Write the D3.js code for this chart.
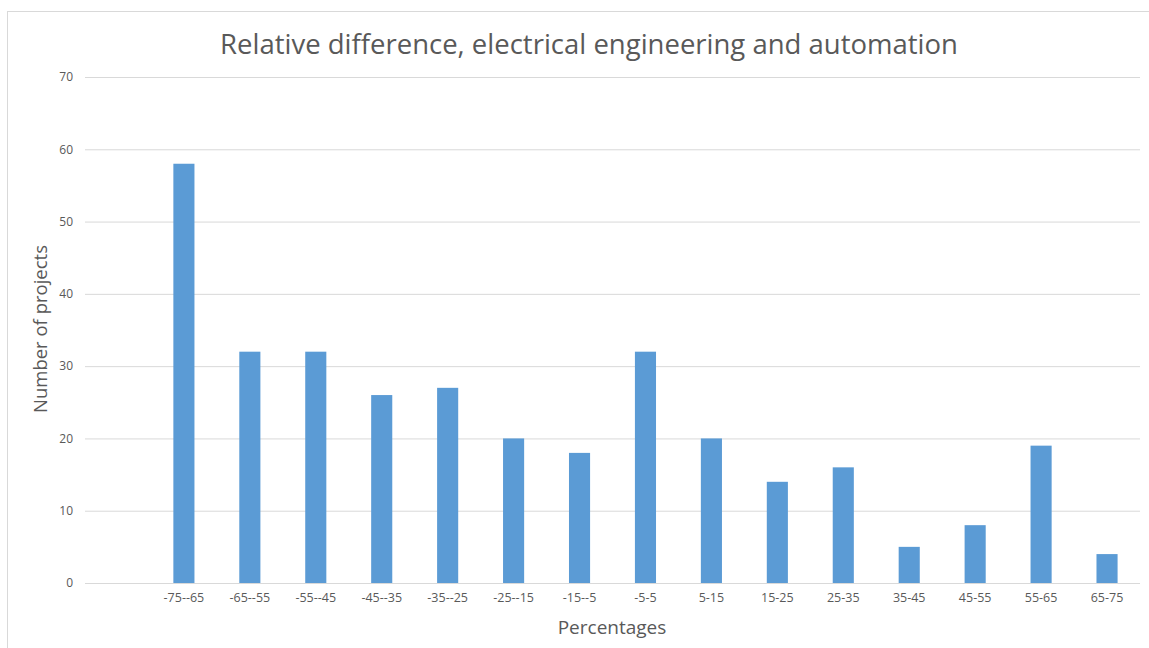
<!DOCTYPE html>
<html>
<head>
<meta charset="utf-8">
<script src="https://cdn.jsdelivr.net/npm/d3@7"></script>
<style>
  body { margin: 0; background: #fff; }
  text { font-family: "Open Sans", "Noto Sans", sans-serif; fill: #595959; }
</style>
</head>
<body>
<svg id="chart"></svg>
<script>
// Data
var categories = ['', '-75--65', '-65--55', '-55--45', '-45--35', '-35--25', '-25--15', '-15--5',
                  '-5-5', '5-15', '15-25', '25-35', '35-45', '45-55', '55-65', '65-75'];
var counts = [null, 58, 32, 32, 26, 27, 20, 18, 32, 20, 14, 16, 5, 8, 19, 4];
var yTicks = [0, 10, 20, 30, 40, 50, 60, 70];

var width = 1149,
    height = 648,
    margin = {top: 77, right: 9, bottom: 65, left: 85};

var svg = d3.select('#chart')
    .attr('width', width)
    .attr('height', height);

// chart frame
svg.append('rect')
    .attr('x', 7.5)
    .attr('y', 11.5)
    .attr('width', width + 10)
    .attr('height', height + 10)
    .attr('fill', 'none')
    .attr('stroke', '#d9d9d9');

var xScale = d3.scaleBand()
    .domain(categories.map(function(d, i) { return i; }))
    .range([margin.left, width - margin.right])
    .paddingInner(0.68)
    .paddingOuter(0.34);

var yScale = d3.scaleLinear()
    .domain([0, 70])
    .range([height - margin.bottom, margin.top]);

// gridlines + y labels
var yAxis = d3.axisLeft(yScale)
    .tickValues(yTicks)
    .tickSize(-(width - margin.right - margin.left))
    .tickPadding(12);

var gy = svg.append('g')
    .attr('transform', 'translate(' + margin.left + ',0)')
    .call(yAxis);
gy.select('.domain').remove();
gy.selectAll('line').attr('stroke', '#d9d9d9');
gy.selectAll('text').style('font-size', '12px');

// bars
svg.append('g').selectAll('rect')
    .data(counts)
    .enter().filter(function(d) { return d !== null; })
    .append('rect')
    .attr('x', function(d, i) { return xScale(i + 1); })
    .attr('y', function(d) { return yScale(d); })
    .attr('width', xScale.bandwidth())
    .attr('height', function(d) { return yScale(0) - yScale(d); })
    .attr('fill', '#5b9bd5');

// x axis
var xAxis = d3.axisBottom(xScale)
    .tickSize(0)
    .tickPadding(10)
    .tickFormat(function(i) { return categories[i]; });

var gx = svg.append('g')
    .attr('transform', 'translate(0,' + yScale(0) + ')')
    .call(xAxis);
gx.select('.domain').remove();
gx.selectAll('text').style('font-size', '12.5px');

svg.append('line')
    .attr('x1', margin.left)
    .attr('x2', width - margin.right)
    .attr('y1', yScale(0) + 0.5)
    .attr('y2', yScale(0) + 0.5)
    .attr('stroke', '#d9d9d9');

// titles
svg.append('text')
    .attr('x', 589)
    .attr('y', 54)
    .attr('text-anchor', 'middle')
    .style('font-size', '27.5px')
    .text('Relative difference, electrical engineering and automation');

svg.append('text')
    .attr('x', 612)
    .attr('y', 634)
    .attr('text-anchor', 'middle')
    .style('font-size', '19px')
    .text('Percentages');

svg.append('text')
    .attr('transform', 'translate(47,329) rotate(-90)')
    .attr('text-anchor', 'middle')
    .style('font-size', '18.5px')
    .text('Number of projects');
</script>
</body>
</html>
